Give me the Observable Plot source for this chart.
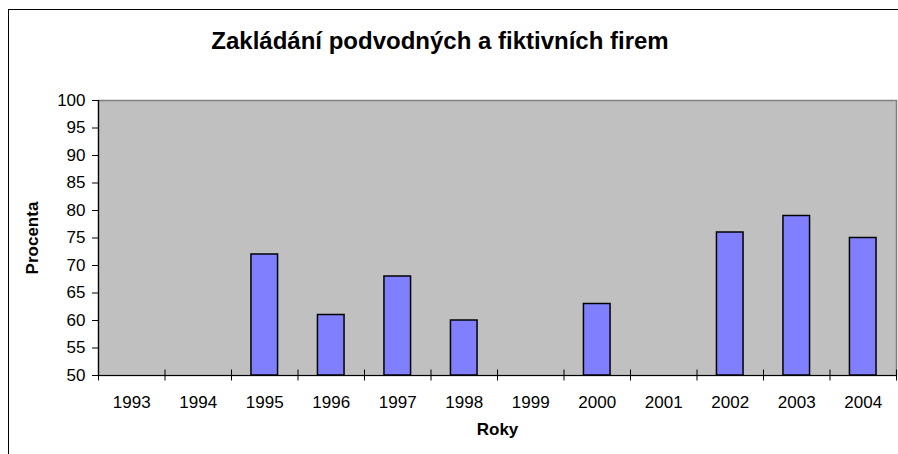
<!DOCTYPE html>
<html>
<head>
<meta charset="utf-8">
<script src="https://cdn.jsdelivr.net/npm/d3@7"></script>
<script src="https://cdn.jsdelivr.net/npm/@observablehq/plot@0.6"></script>
<style>
  html, body { margin: 0; padding: 0; background: #fff; }
  #wrap { position: relative; width: 898px; height: 454px; overflow: hidden; font-family: "Liberation Sans", Arial, sans-serif; }
  #frame { position: absolute; left: 8px; top: 9px; width: 1000px; height: 1000px; border: 1px solid #000; pointer-events: none; }
  #title { position: absolute; left: 0; top: 0; width: 880px; height: 60px; text-align: center; font-weight: bold; font-size: 24px; line-height: 24px; padding-top: 29px; box-sizing: border-box; color: #000; }
  #chart { position: absolute; left: 0; top: 60px; }
</style>
</head>
<body>
<div id="wrap">
  <div id="title">Zakládání podvodných a fiktivních firem</div>
  <div id="chart"></div>
  <div id="frame"></div>
</div>
<script>
const years = ["1993","1994","1995","1996","1997","1998","1999","2000","2001","2002","2003","2004"];
const values = [null, null, 72, 61, 68, 60, null, 63, null, 76, 79, 75];
const yTicks = [50,55,60,65,70,75,80,85,90,95,100];
const yLabel = "Procenta";
const xLabel = "Roky";

const data = years.map((year, i) => ({i, year, value: values[i]})).filter(d => d.value != null);
const boundaries = d3.range(years.length + 1);
const centers = years.map((_, i) => i + 0.5);

const plot = Plot.plot({
  width: 898,
  height: 394,
  marginTop: 40,
  marginLeft: 98,
  marginRight: 2,
  marginBottom: 79,
  style: {background: "transparent", fontFamily: "'Liberation Sans', Arial, sans-serif", fontSize: "17px", color: "#000"},
  x: {domain: [0, years.length]},
  y: {domain: [50, 100]},
  marks: [
    Plot.frame({fill: "#C0C0C0", stroke: "#808080", strokeWidth: 1.5}),
    Plot.rectY(data, {x1: d => d.i + 0.3, x2: d => d.i + 0.7, y1: 50, y2: "value", fill: "#8080FF", stroke: "#000", strokeWidth: 1.5}),
    Plot.ruleY([50], {stroke: "#000", strokeWidth: 1.2}),
    Plot.ruleX([0], {y1: 50, y2: 100, stroke: "#000", strokeWidth: 1.2}),
    Plot.ruleX(boundaries, {y1: 49, y2: 51, stroke: "#000", strokeWidth: 1}),
    Plot.axisY({ticks: yTicks, tickSize: 6, tickPadding: 7, label: null, fontSize: 17}),
    Plot.axisX({ticks: centers, tickFormat: d => years[Math.floor(d)], tickSize: 0, tickPadding: 20, label: null, fontSize: 17}),
    Plot.text([yLabel], {frameAnchor: "left", text: d => d, rotate: -90, textAnchor: "middle", dx: -66, fontWeight: "bold", fontSize: 17}),
    Plot.text([xLabel], {frameAnchor: "bottom", text: d => d, dy: 59, fontWeight: "bold", fontSize: 17})
  ]
});
document.getElementById("chart").appendChild(plot);
</script>
</body>
</html>
